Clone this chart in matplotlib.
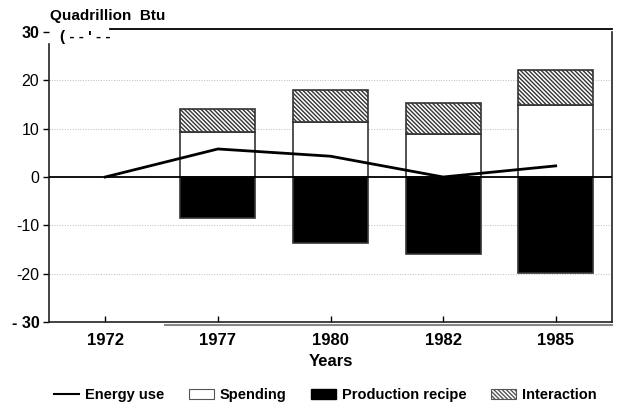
import matplotlib
matplotlib.use('Agg')
import matplotlib.pyplot as plt
from matplotlib.patches import Patch
from matplotlib.lines import Line2D

plt.rcParams['font.family'] = ['Liberation Sans', 'DejaVu Sans']
plt.rcParams['hatch.linewidth'] = 1.0

# >>> data -----
years = ['1972', '1977', '1980', '1982', '1985']
energy_use = [0, 5.8, 4.3, 0, 2.3]

bar_years = ['1977', '1980', '1982', '1985']
spending = [9.3, 11.4, 8.9, 14.9]
interaction = [4.8, 6.6, 6.4, 7.2]
production = [-8.5, -13.6, -15.9, -19.9]

yticks = [-30, -20, -10, 0, 10, 20, 30]

# >>> plot -----
fig = plt.figure(figsize=(6.17, 4.07), dpi=100)
ax = fig.add_axes([49 / 617, 1 - 322 / 407, 563 / 617, 290 / 407])

x_all = list(range(len(years)))
x_bar = [years.index(y) for y in bar_years]
w = 0.665
edge = '#333333'
hatch = '\\' * 8

ax.bar(x_bar, spending, width=w, color='white', edgecolor=edge, linewidth=1.2, zorder=2)
ax.bar(x_bar, interaction, width=w, bottom=spending, color='white', edgecolor=edge,
       hatch=hatch, linewidth=1.2, zorder=2)
ax.bar(x_bar, production, width=w, color='black', edgecolor=edge, linewidth=1.2, zorder=2)

ax.axhline(0, color='black', linewidth=1.3, zorder=3)
ax.plot(x_all, energy_use, color='black', linewidth=2, zorder=4)

for g in [-20, -10, 10, 20]:
    ax.axhline(g, color='#bbbbbb', linestyle=':', linewidth=0.7, zorder=1)

ax.set_xlim(-0.5, 4.5)
ax.set_ylim(-30, 30)
ax.set_xticks(x_all)
ax.set_xticklabels(years, fontsize=12, fontweight='bold')
ax.tick_params(axis='x', direction='in', length=4, pad=8, width=1)
ax.set_yticks(yticks)
ax.set_yticklabels([('- 30' if t == -30 else str(t)) for t in yticks], fontsize=11.5)
ax.tick_params(axis='y', direction='out', length=4, pad=3, width=1)
for lbl in ax.get_yticklabels():
    if lbl.get_text() in ('30', '- 30'):
        lbl.set_fontweight('bold')

ax.set_xlabel('Years', fontsize=12, fontweight='bold', labelpad=4)

ax.spines['top'].set_visible(False)
ax.spines['left'].set_bounds(-30, 27.5)
for s in ['left', 'right', 'bottom']:
    ax.spines[s].set_linewidth(1.2)
    ax.spines[s].set_color('#222222')

# partial top border and scan artefacts
ax.plot([0.108, 1.0], [1.01, 1.01], transform=ax.transAxes, color='black',
        linewidth=1.3, clip_on=False)
ax.plot([0.206, 1.0], [-0.012, -0.012], transform=ax.transAxes, color='#888888',
        linewidth=1.5, clip_on=False)

fig.text(50 / 617, 1 - 16 / 407, 'Quadrillion  Btu', fontsize=11, fontweight='bold',
         ha='left', va='center')
fig.text(60 / 617, 1 - 37 / 407, "( - - ' - -", fontsize=11, fontweight='bold',
         ha='left', va='center')

handles = [
    Line2D([0], [0], color='black', linewidth=1.5),
    Patch(facecolor='white', edgecolor='#555555', linewidth=0.8),
    Patch(facecolor='black', edgecolor='black'),
    Patch(facecolor='white', edgecolor='#555555', hatch=hatch, linewidth=0.8),
]
labels = ['Energy use', 'Spending', 'Production recipe', 'Interaction']
fig.legend(handles, labels, loc='center', bbox_to_anchor=(0.527, 1 - 395 / 407), ncol=4,
           frameon=False, prop={'weight': 'bold', 'size': 10.5}, handlelength=1.7,
           handletextpad=0.4, columnspacing=1.7)

fig.savefig('out.png', dpi=100)
